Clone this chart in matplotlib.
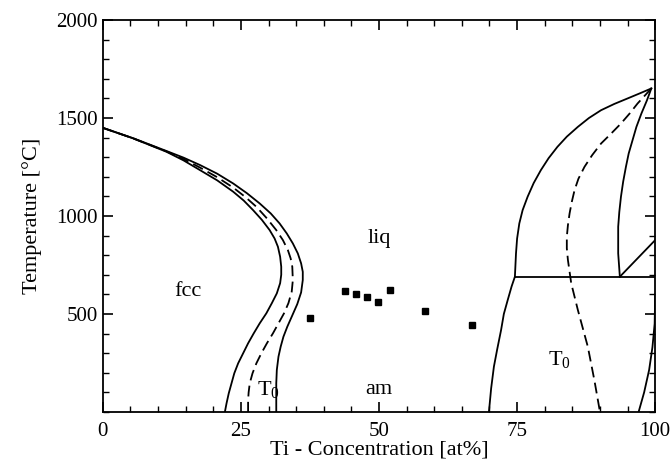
import matplotlib
matplotlib.use('Agg')
import matplotlib.pyplot as plt
from matplotlib.ticker import MultipleLocator

plt.rcParams['font.family'] = ['Liberation Serif', 'DejaVu Serif']
plt.rcParams['mathtext.fontset'] = 'custom'
plt.rcParams['mathtext.rm'] = 'Liberation Serif'
plt.rcParams['mathtext.it'] = 'Liberation Serif:italic'

# left side (fcc) curves, Ti at% vs temperature
fcc_in_x = [0, 5.5, 11.5, 14.6, 17.6, 20.7, 23.6, 25.5, 27.2, 28.8, 30.2, 31.1, 31.7, 32.1, 32.3, 32.3,
            32.1, 31.5, 30.6, 29.6, 28.4, 27.3, 26.3, 25.4, 24.5, 23.8, 23.3, 22.8, 22.4, 22.1]
fcc_in_y = [1450, 1396, 1328, 1284, 1234, 1182, 1124, 1079, 1030, 980, 928, 885, 843, 792, 741, 700,
            657, 605, 555, 503, 452, 400, 350, 299, 248, 197, 146, 95, 44, 0]
fcc_t0_x = [0, 5.5, 11.5, 14.6, 17.6, 20.7, 23.6, 25.8, 27.8, 29.7, 31.4, 32.6, 33.5, 34.0, 34.3, 34.4,
            34.2, 33.6, 32.8, 31.8, 30.8, 29.7, 28.7, 27.8, 27.1, 26.6, 26.4, 26.3, 26.3]
fcc_t0_y = [1450, 1396, 1330, 1291, 1247, 1198, 1145, 1097, 1047, 988, 928, 877, 826, 784, 741, 673,
            614, 555, 503, 452, 401, 350, 299, 248, 197, 146, 100, 60, 0]
fcc_out_x = [0, 5.5, 11.5, 14.6, 17.6, 20.7, 23.6, 26.1, 28.4, 30.4, 32.0, 33.3, 34.4, 35.3, 35.9, 36.2, 36.2,
             35.9, 35.2, 34.2, 33.4, 32.7, 32.2, 31.8, 31.5, 31.4, 31.4]
fcc_out_y = [1450, 1397, 1332, 1298, 1260, 1216, 1166, 1116, 1064, 1013, 962, 911, 860, 809, 758, 715, 673,
             610, 550, 486, 435, 384, 333, 282, 214, 146, 0]

# right side (Ti-rich) curves
ti_liq_x = [99.3, 97.3, 95.0, 92.6, 90.2, 88.0, 86.0, 84.0, 82.3, 80.7, 79.3, 78.0, 76.9, 76.0, 75.4, 75.0, 74.8, 74.6]
ti_liq_y = [1651, 1627, 1600, 1572, 1540, 1500, 1455, 1405, 1353, 1295, 1234, 1168, 1098, 1030, 962, 885, 809, 690]
ti_low_x = [74.6, 74.0, 73.3, 72.6, 72.1, 71.4, 70.8, 70.3, 69.9]
ti_low_y = [690, 640, 571, 500, 418, 320, 231, 120, 0]
ti_t0_x = [99.3, 98.1, 96.8, 95.4, 93.8, 92.0, 90.2, 88.6, 87.2, 86.1, 85.4, 84.9, 84.5, 84.2, 84.0, 84.0, 84.2,
           84.8, 86.0, 87.8, 89.0, 90.0]
ti_t0_y = [1651, 1614, 1574, 1524, 1472, 1420, 1370, 1311, 1251, 1190, 1132, 1072, 1013, 953, 894, 835, 775,
           656, 520, 333, 160, 0]
ti_sol_x = [99.3, 98.5, 97.5, 96.6, 95.9, 95.2, 94.7, 94.2, 93.8, 93.5, 93.3, 93.3, 93.3, 93.6]
ti_sol_y = [1651, 1590, 1523, 1455, 1387, 1319, 1251, 1175, 1098, 1020, 945, 877, 809, 690]
eut_x = [74.6, 100]
eut_y = [690, 690]
diag_x = [93.6, 100]
diag_y = [690, 877]
ti_bcc_x = [97.0, 98.0, 98.9, 99.5, 99.9, 100]
ti_bcc_y = [0, 100, 214, 330, 450, 600]

# measured points
pts_x = [37.5, 43.8, 45.8, 47.9, 49.9, 52.0, 58.3, 66.8]
pts_y = [481, 617, 602, 585, 560, 622, 517, 442]

fig = plt.figure(figsize=(6.72, 4.67), dpi=100)
ax = fig.add_axes([0.153, 0.118, 0.822, 0.839])

lw = 1.3
dash = (0, (6, 3))
for xs, ys in [(fcc_in_x, fcc_in_y), (fcc_out_x, fcc_out_y), (ti_liq_x, ti_liq_y),
               (ti_low_x, ti_low_y), (ti_sol_x, ti_sol_y), (eut_x, eut_y),
               (diag_x, diag_y), (ti_bcc_x, ti_bcc_y)]:
    ax.plot(xs, ys, color='black', lw=lw, solid_joinstyle='round')
ax.plot(fcc_t0_x, fcc_t0_y, color='black', lw=lw, linestyle=dash)
ax.plot(ti_t0_x, ti_t0_y, color='black', lw=lw, linestyle=dash)

ax.plot(pts_x, pts_y, linestyle='none', marker='s', markersize=4.5, color='black')

# region labels
fs = 16
ax.text(15.4, 613, 'fcc', fontsize=fs, ha='center', va='center')
ax.text(50, 886, 'liq', fontsize=fs, ha='center', va='center')
ax.text(50, 112, 'am', fontsize=fs, ha='center', va='center')
ax.text(29.9, 112, r'$\mathrm{T}_\mathrm{0}$', fontsize=fs, ha='center', va='center')
ax.text(82.6, 265, r'$\mathrm{T}_\mathrm{0}$', fontsize=fs, ha='center', va='center')

ax.set_xlim(0, 100)
ax.set_ylim(0, 2000)
ax.xaxis.set_major_locator(MultipleLocator(25))
ax.xaxis.set_minor_locator(MultipleLocator(5))
ax.yaxis.set_minor_locator(MultipleLocator(100))
ax.set_yticks([500, 1000, 1500, 2000])
ax.tick_params(which='both', direction='in', top=True, right=True, labelsize=15)
ax.tick_params(which='major', length=7, width=1.2)
ax.tick_params(which='minor', length=4, width=1.0)
ax.tick_params(axis='x', which='major', pad=7)
for s in ax.spines.values():
    s.set_linewidth(1.3)

ax.set_xlabel('Ti - Concentration [at%]', fontsize=16, labelpad=0)
ax.set_ylabel('Temperature [°C]', fontsize=16)
ax.yaxis.set_label_coords(-0.11, 0.5)

fig.savefig('out.png', dpi=100, facecolor='white')
